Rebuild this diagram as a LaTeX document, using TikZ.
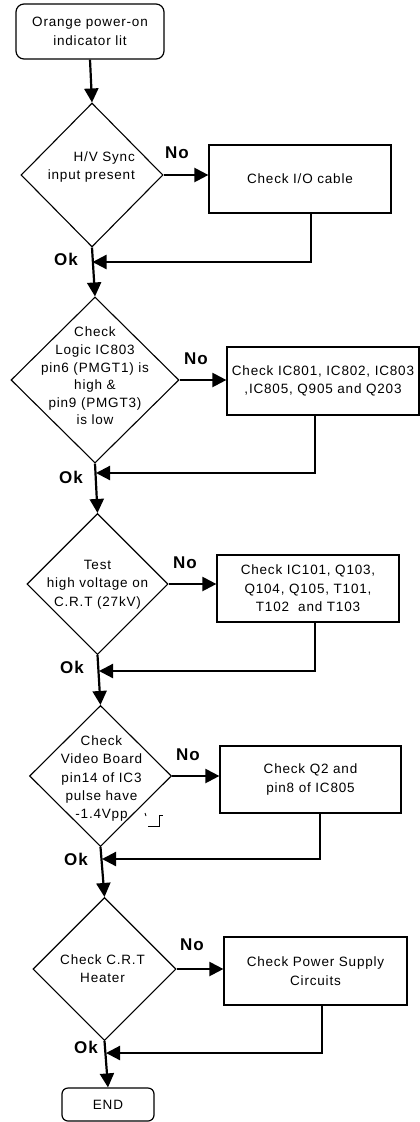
\documentclass[tikz,border=0pt]{standalone}
\usepackage{fontspec}
\setmainfont{Liberation Sans}[LetterSpace=6]
\usetikzlibrary{shapes.geometric,arrows.meta,calc}
\begin{document}
\begin{tikzpicture}[x=1pt,y=-1pt]
\tikzset{
 boxn/.style={draw, line width=1.2pt, inner sep=0, align=center, font=\fontsize{13.5}{18.5}\selectfont},
 rbox/.style={boxn, rounded corners=#1},
 dia/.style={draw, diamond, line width=1.1pt, inner sep=0},
 txt/.style={align=center, inner sep=0, font=\fontsize{13.5}{18.5}\selectfont},
 lbl/.style={inner sep=0, font=\fontsize{17}{18}\selectfont\bfseries},
 flow/.style={line width=2.2pt, -{Triangle[length=14pt,width=14pt]}},
 pulse/.style={line width=0.9pt},
}
\useasboundingbox (0,0) rectangle (420,1122);
\fill[white] (0,0) rectangle (420,1122);

% start
\node[rbox=8pt, minimum width=148pt, minimum height=55pt] (start) at (90,31.5) {Orange power-on\\indicator lit};

% decision 1
\node[dia, minimum width=142pt, minimum height=144pt] (d1) at (92,175) {};
\node[txt, align=right, anchor=east] (t1) at (135,167) {H/V Sync\\input present};
\node[boxn, minimum width=182pt, minimum height=68pt] (b1) at (300,179) {Check I/O cable};
\node[lbl] (no1) at (177,153) {No};
\node[lbl] (ok1) at (66,259) {Ok};
\coordinate (j1) at (92.5,262);

% decision 2
\node[dia, minimum width=168pt, minimum height=166pt] (d2) at (95,380) {};
\node[txt, font=\fontsize{13.5}{17.6}\selectfont] (t2) at (95,376) {Check\\Logic IC803\\pin6 (PMGT1) is\\high \&\\pin9 (PMGT3)\\is low};
\node[boxn, minimum width=192pt, minimum height=68pt] (b2) at (323,381) {Check IC801, IC802, IC803\\,IC805, Q905 and Q203};
\node[lbl] (no2) at (196,359) {No};
\node[lbl] (ok2) at (71,477) {Ok};
\coordinate (j2) at (96,473);

% decision 3
\node[dia, minimum width=141pt, minimum height=141pt] (d3) at (97.5,584) {};
\node[txt] (t3) at (97.5,584.5) {Test\\high voltage on\\C.R.T (27kV)};
\node[boxn, minimum width=182pt, minimum height=67pt] (b3) at (308,588.5) {Check IC101, Q103,\\Q104, Q105, T101,\\T102\ \ and T103};
\node[lbl] (no3) at (185,563) {No};
\node[lbl] (ok3) at (72,667) {Ok};
\coordinate (j3) at (99,671);

% decision 4
\node[dia, minimum width=142pt, minimum height=141pt] (d4) at (100.5,776) {};
\node[txt, font=\fontsize{13.5}{18.2}\selectfont] (t4) at (101.5,778.5) {Check\\Video Board\\pin14 of IC3\\pulse have\\-1.4Vpp};
\node[boxn, minimum width=181pt, minimum height=67pt] (b4) at (310.5,779.5) {Check Q2 and\\pin8 of IC805};
\node[lbl] (no4) at (188,755) {No};
\node[lbl] (ok4) at (76,859) {Ok};
\coordinate (j4) at (102,859);
\draw[pulse] (145,813) -- (146,816);
\draw[pulse] (148,826) -- (159,826) -- (159,815) -- (163,815);

% decision 5
\node[dia, minimum width=143pt, minimum height=143pt] (d5) at (104.5,969) {};
\node[txt] (t5) at (102.5,968.5) {Check C.R.T\\Heater};
\node[boxn, minimum width=183pt, minimum height=68pt] (b5) at (315.5,971) {Check Power Supply\\Circuits};
\node[lbl] (no5) at (192,945) {No};
\node[lbl] (ok5) at (86,1047) {Ok};
\coordinate (j5) at (106,1053);

% end
\node[rbox=6pt, minimum width=92pt, minimum height=33pt] (end) at (108,1104.5) {END};

% connectors
\draw[flow] (start.south) -- (d1.north);
\draw[flow] (d1.east) -- (d1.east -| b1.west);
\draw[flow] ([xshift=11pt]b1.south) |- (j1);
\draw[flow] (d1.south) -- (d2.north);
\draw[flow] (d2.east) -- (d2.east -| b2.west);
\draw[flow] ([xshift=-8pt]b2.south) |- (j2);
\draw[flow] (d2.south) -- (d3.north);
\draw[flow] (d3.east) -- (d3.east -| b3.west);
\draw[flow] ([xshift=7pt]b3.south) |- (j3);
\draw[flow] (d3.south) -- (d4.north);
\draw[flow] (d4.east) -- (d4.east -| b4.west);
\draw[flow] ([xshift=9.5pt]b4.south) |- (j4);
\draw[flow] (d4.south) -- (d5.north);
\draw[flow] (d5.east) -- (d5.east -| b5.west);
\draw[flow] ([xshift=6.5pt]b5.south) |- (j5);
\draw[flow] (d5.south) -- (end.north);
\end{tikzpicture}
\end{document}
